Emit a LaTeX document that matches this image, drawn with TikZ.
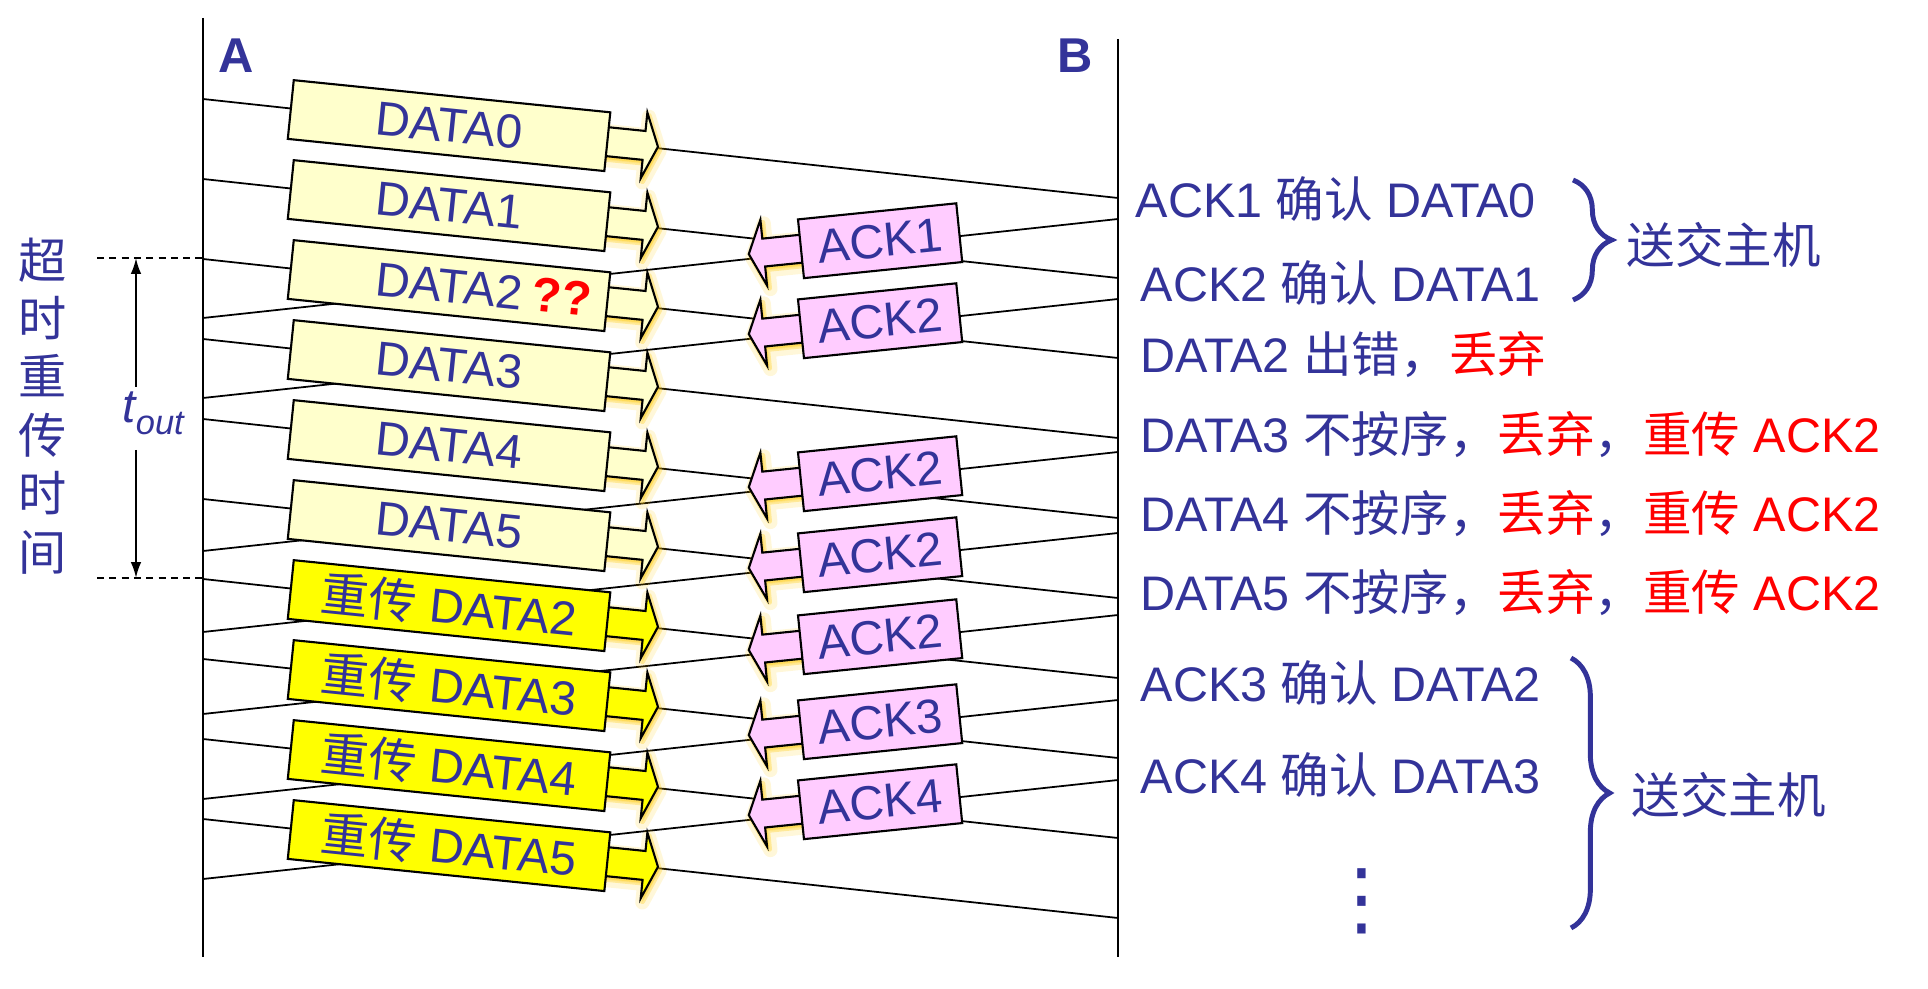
\documentclass[tikz,border=0pt]{standalone}
\usepackage{fontspec}
\setmainfont{Liberation Sans}
\newfontfamily\cjk{Noto Sans CJK SC}
\newfontfamily\dejavu{DejaVu Sans}
\usetikzlibrary{calc,arrows.meta,decorations.pathreplacing}
\definecolor{tblue}{RGB}{51,51,153}
\definecolor{lyellow}{RGB}{255,255,204}
\definecolor{yel}{RGB}{255,255,0}
\definecolor{ackpink}{RGB}{255,204,255}
\definecolor{glowc}{RGB}{255,200,0}
\newcommand\bxfont{\fontsize{13.6}{16}\selectfont}
\newcommand\rtfont{\fontsize{13.8}{16}\selectfont}
\newcommand\dpath{(150,-14.5) -- (196,-14.5) -- (196,-33) -- (210,0) -- (196,33) -- (196,14.5) -- (150,14.5) -- cycle}
\newcommand\apath{(-70,-14) -- (-117,-14) -- (-117,-33) -- (-132,0) -- (-117,33) -- (-117,14) -- (-70,14) -- cycle}
\begin{document}
\begin{tikzpicture}[x=0.01cm, y=-0.01cm,
  life/.style={line width=0.75pt},
  msg/.style={line width=0.5pt},
  boxbase/.style={draw=black, line width=0.6pt, minimum height=0.59cm, inner sep=0pt, text=tblue, font=\bxfont},
  databox/.style={boxbase, fill=lyellow, minimum width=3.18cm, rotate=-5.8},
  retbox/.style={boxbase, fill=yel, minimum width=3.18cm, rotate=-5.8},
  ackbox/.style={boxbase, fill=ackpink, minimum width=1.59cm, rotate=5.8},
  arr/.style={draw=black, line width=0.6pt, line join=miter},
  glowa/.style={fill=glowc, draw=glowc, line width=4pt, opacity=0.15, line join=round},
  glowb/.style={fill=glowc, draw=glowc, line width=1.5pt, opacity=0.3, line join=round},
  rtext/.style={anchor=base west, inner sep=0pt, text=tblue, font=\rtfont},
  tarrow/.style={line width=0.6pt, -{Latex[length=4.5pt,width=3pt]}},
  timedash/.style={line width=0.45pt, dash pattern=on 2pt off 1.5pt},
  brace/.style={draw=tblue, line width=1.4pt, decorate, decoration={brace, amplitude=11pt}},
]
\useasboundingbox (0,0) rectangle (1928,989);

% lifelines
\coordinate (Atop) at (203,18);
\coordinate (Abot) at (203,957);
\coordinate (Btop) at (1118,39);
\coordinate (Bbot) at (1118,957);
\draw[life] (Atop) -- (Abot);
\draw[life] (Btop) -- (Bbot);
\node[anchor=base, inner sep=0pt, text=tblue, font=\bfseries\fontsize{13.9}{16}\selectfont] (labA) at (236.5,73) {A};
\node[anchor=base west, inner sep=0pt, text=tblue, font=\bfseries\fontsize{13.9}{16}\selectfont] (labB) at (1057,73) {B};

% data lines
\foreach \i/\ys in {0/99,1/179,2/259,3/339,4/419,5/499,6/579,7/659,8/739,9/819}{
  \coordinate (ds\i) at (203,\ys);
  \coordinate (de\i) at (1118,\ys+99);
  \draw[msg] (ds\i) -- (de\i);
  \coordinate (dc\i) at ($(ds\i)!0.2689!(de\i)$);
}
% ack lines
\foreach \j/\ys in {1/219,2/299,3/452,4/533,5/615,6/700,7/780}{
  \coordinate (as\j) at (1118,\ys);
  \coordinate (ae\j) at (203,\ys+99);
  \draw[msg] (as\j) -- (ae\j);
  \coordinate (ac\j) at ($(as\j)!0.260!(ae\j)+(0,-4)$);
}

% data arrows
\foreach \i in {0,...,5}{
  \begin{scope}[shift={(dc\i)}, rotate=-5.8]
    \path[glowa, shift={(2,4)}] \dpath;
    \path[glowb, shift={(2,3)}] \dpath;
    \path[arr, fill=lyellow] \dpath;
  \end{scope}
}
\foreach \i in {6,...,9}{
  \begin{scope}[shift={(dc\i)}, rotate=-5.8]
    \path[glowa, shift={(2,4)}] \dpath;
    \path[glowb, shift={(2,3)}] \dpath;
    \path[arr, fill=yel] \dpath;
  \end{scope}
}
% ack arrows
\foreach \j in {1,...,7}{
  \begin{scope}[shift={(ac\j)}, rotate=5.8]
    \path[glowa, shift={(3,4)}] \apath;
    \path[glowb, shift={(2,3)}] \apath;
    \path[arr, fill=ackpink] \apath;
  \end{scope}
}

% data boxes
\node[databox] (p0) at (dc0) {DATA0};
\node[databox] (p1) at (dc1) {DATA1};
\node[databox] (p2) at (dc2) {DATA2\rlap{\hspace{3pt}\textcolor{red}{\bfseries\fontsize{13.8}{16}\selectfont ??}}};
\node[databox] (p3) at (dc3) {DATA3};
\node[databox] (p4) at (dc4) {DATA4};
\node[databox] (p5) at (dc5) {DATA5};
\node[retbox] (p6) at (dc6) {{\cjk 重传} DATA2};
\node[retbox] (p7) at (dc7) {{\cjk 重传} DATA3};
\node[retbox] (p8) at (dc8) {{\cjk 重传} DATA4};
\node[retbox] (p9) at (dc9) {{\cjk 重传} DATA5};

% ack boxes
\node[ackbox] (k1) at (ac1) {ACK1};
\node[ackbox] (k2) at (ac2) {ACK2};
\node[ackbox] (k3) at (ac3) {ACK2};
\node[ackbox] (k4) at (ac4) {ACK2};
\node[ackbox] (k5) at (ac5) {ACK2};
\node[ackbox] (k6) at (ac6) {ACK3};
\node[ackbox] (k7) at (ac7) {ACK4};

% timeout
\coordinate (dl1) at (97,258);
\coordinate (dr1) at (203,258);
\coordinate (dl2) at (97,578);
\coordinate (dr2) at (203,578);
\draw[timedash] (dl1) -- (dr1);
\draw[timedash] (dl2) -- (dr2);
\coordinate (ttop) at (136,258);
\coordinate (tbot) at (136,578);
\coordinate (tg1) at (136,387);
\coordinate (tg2) at (136,450);
\draw[tarrow] (tg1) -- (ttop);
\draw[tarrow] (tg2) -- (tbot);
\node[anchor=base west, inner sep=0pt, text=tblue] (tout) at (122,423)
  {\fontsize{13.5}{16}\selectfont\itshape t\raisebox{-3.4pt}{\fontsize{9.8}{12}\selectfont\itshape out}};
\node[anchor=north, inner sep=0pt, align=center, text=tblue, font=\cjk\fontsize{13.7}{16.6}\selectfont] (tlabel) at (43,237)
  {超\\时\\重\\传\\时\\间};

% right texts
\node[rtext] (r1) at (1135,218) {ACK1 {\cjk 确认} DATA0};
\node[rtext] (r2) at (1140,302) {ACK2 {\cjk 确认} DATA1};
\node[rtext] (r3) at (1140,373) {DATA2 {\cjk 出错，}\textcolor{red}{\cjk 丢弃}};
\node[rtext] (r4) at (1140,453) {DATA3 {\cjk 不按序，}\textcolor{red}{\cjk 丢弃}{\cjk ，}\textcolor{red}{{\cjk 重传} ACK2}};
\node[rtext] (r5) at (1140,532) {DATA4 {\cjk 不按序，}\textcolor{red}{\cjk 丢弃}{\cjk ，}\textcolor{red}{{\cjk 重传} ACK2}};
\node[rtext] (r6) at (1140,611) {DATA5 {\cjk 不按序，}\textcolor{red}{\cjk 丢弃}{\cjk ，}\textcolor{red}{{\cjk 重传} ACK2}};
\node[rtext] (r7) at (1140,702) {ACK3 {\cjk 确认} DATA2};
\node[rtext] (r8) at (1140,793) {ACK4 {\cjk 确认} DATA3};
\node[inner sep=0pt, text=tblue, font=\dejavu\fontsize{23}{26}\selectfont] (dots) at (1362,901) {⋮};

% braces
\coordinate (br1t) at (1573,180);
\coordinate (br1b) at (1573,300);
\coordinate (br2t) at (1571,658);
\coordinate (br2b) at (1571,928);
\draw[brace] (br1t) -- (br1b);
\draw[brace] (br2t) -- (br2b);
\node[rtext, font=\cjk\rtfont] (h1) at (1626,264) {送交主机};
\node[rtext, font=\cjk\rtfont] (h2) at (1631,814) {送交主机};
\end{tikzpicture}
\end{document}
